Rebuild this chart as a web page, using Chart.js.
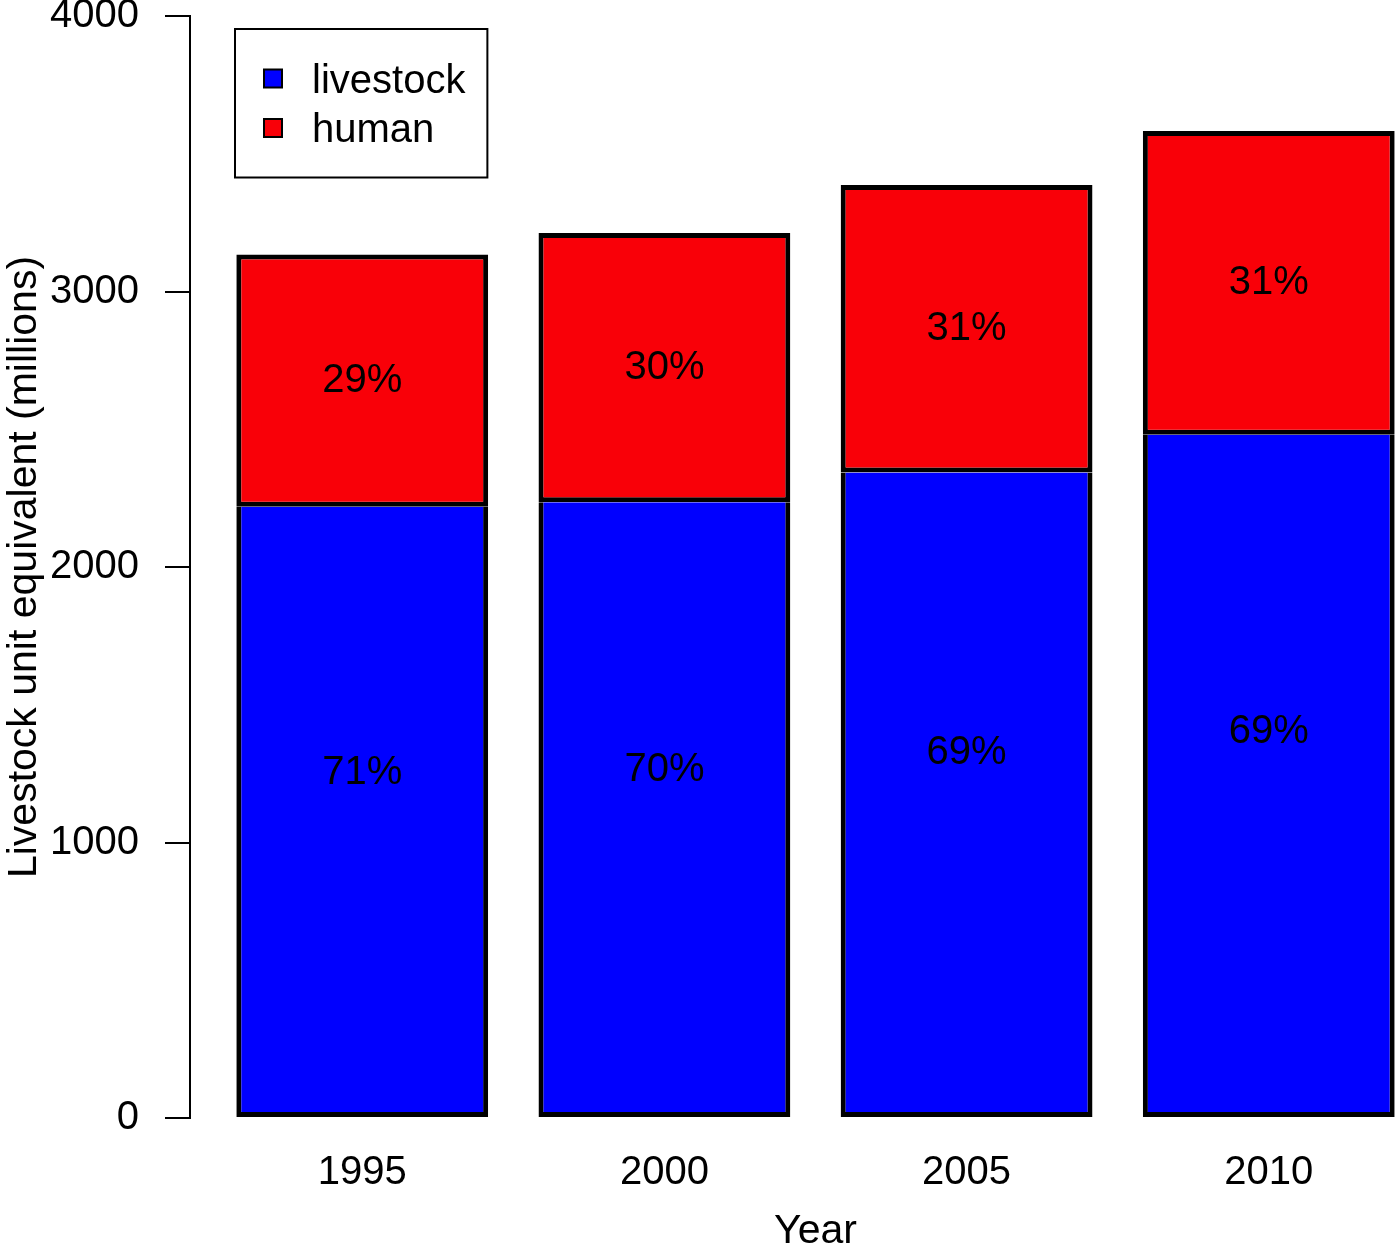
<!DOCTYPE html>
<html>
<head>
<meta charset="utf-8">
<script src="https://cdn.jsdelivr.net/npm/chart.js@4.4.1/dist/chart.umd.min.js"></script>
<style>
  html, body { margin: 0; padding: 0; background: #fff; overflow: hidden; }
  canvas { display: block; }
</style>
</head>
<body>
<canvas id="livestockChart" width="1441" height="1252"></canvas>
<script>
// Data (millions of livestock unit equivalent)
const years = ['1995', '2000', '2005', '2010'];
const livestock = [2219, 2235, 2343, 2480];
const human = [915, 977, 1044, 1103];
const yTicks = [0, 1000, 2000, 3000, 4000];
const seriesNames = ['livestock', 'human'];

const FONT = "'Liberation Sans', Arial, Helvetica, sans-serif";
const BLUE = '#0000FF';
const RED = '#F90008';

// bar positions like R barplot (width 1, space 0.2), axis padded by 4%
const barPos = years.map((_, i) => 0.2 * (i + 1) + i + 0.5);
const xLo = 0.2;
const xHi = barPos[barPos.length - 1] + 0.5;
const xPad = (xHi - xLo) * 0.04;

// Percent labels inside the bars
const barLabels = {
    id: 'barLabels',
    afterDatasetsDraw(chart) {
        const ctx = chart.ctx;
        const yScale = chart.scales.y;
        const meta = chart.getDatasetMeta(0);
        ctx.save();
        ctx.font = '40px ' + FONT;
        ctx.fillStyle = '#000';
        ctx.textAlign = 'center';
        ctx.textBaseline = 'middle';
        years.forEach((yr, i) => {
            const total = livestock[i] + human[i];
            const x = meta.data[i].x;
            ctx.fillText(Math.round(100 * livestock[i] / total) + '%', x, yScale.getPixelForValue(livestock[i] * 0.565));
            ctx.fillText(Math.round(100 * human[i] / total) + '%', x, yScale.getPixelForValue(livestock[i] + human[i] * 0.5));
        });
        ctx.restore();
    }
};

// Boxed legend, top left over the first bar
const boxLegend = {
    id: 'boxLegend',
    afterDraw(chart) {
        const ctx = chart.ctx;
        const first = chart.getDatasetMeta(0).data[0];
        const left = Math.round(first.x - first.width / 2) - 1;
        const top = chart.chartArea.top + 13;
        const row = 49.5;
        const sets = chart.data.datasets;
        ctx.save();
        ctx.font = '40px ' + FONT;
        const textW = Math.max(...sets.map(d => ctx.measureText(d.label).width));
        const w = 29 + 18 + 30 + textW + 22;
        const h = row * (sets.length + 1);
        ctx.fillStyle = '#fff';
        ctx.fillRect(left, top, w, h);
        ctx.lineWidth = 2;
        ctx.strokeStyle = '#000';
        ctx.strokeRect(left, top, w, h);
        sets.forEach((d, i) => {
            const cy = top + row * (i + 1);
            ctx.fillStyle = d.backgroundColor;
            ctx.fillRect(left + 29, cy - 9, 18, 18);
            ctx.strokeRect(left + 29, cy - 9, 18, 18);
            ctx.fillStyle = '#000';
            ctx.textBaseline = 'middle';
            ctx.fillText(d.label, left + 77, cy + 3);
        });
        ctx.restore();
    }
};

new Chart(document.getElementById('livestockChart'), {
    type: 'bar',
    data: {
        datasets: [{
            label: seriesNames[0],
            data: barPos.map((x, i) => ({ x: x, y: livestock[i] })),
            backgroundColor: BLUE,
            borderColor: '#000',
            borderWidth: { top: 0, left: 5, right: 5, bottom: 5 },
            borderSkipped: false
        }, {
            label: seriesNames[1],
            data: barPos.map((x, i) => ({ x: x, y: human[i] })),
            backgroundColor: RED,
            borderColor: '#000',
            borderWidth: { top: 5, left: 5, right: 5, bottom: 5 },
            borderSkipped: false
        }]
    },
    options: {
        responsive: false,
        animation: false,
        devicePixelRatio: 1,
        barPercentage: 1 / 1.2,
        categoryPercentage: 1,
        layout: { padding: { top: 16, left: 0, right: 0, bottom: 0 } },
        plugins: {
            legend: { display: false },
            tooltip: { enabled: false }
        },
        scales: {
            x: {
                type: 'linear',
                stacked: true,
                offset: false,
                min: xLo - xPad,
                max: xHi + xPad,
                afterBuildTicks: s => { s.ticks = barPos.map(v => ({ value: v })); },
                ticks: {
                    callback: (v, i) => years[i],
                    font: { family: FONT, size: 40 },
                    color: '#000',
                    padding: 31,
                    maxRotation: 0,
                    autoSkip: false
                },
                grid: { display: false, drawTicks: false },
                border: { display: false },
                title: {
                    display: true,
                    text: 'Year',
                    font: { family: FONT, size: 41 },
                    color: '#000',
                    padding: { top: 0, bottom: -4 }
                },
                afterFit: s => { s.height = 134; s.paddingLeft = 0; s.paddingRight = 0; }
            },
            y: {
                stacked: true,
                min: 0,
                max: 4000,
                afterBuildTicks: s => { s.ticks = yTicks.map(v => ({ value: v })); },
                ticks: {
                    callback: v => String(v),
                    font: { family: FONT, size: 40 },
                    color: '#000',
                    padding: 26
                },
                grid: { drawOnChartArea: false, drawTicks: true, tickLength: 25, color: '#000', lineWidth: 2 },
                border: { display: true, color: '#000', width: 2 },
                title: {
                    display: true,
                    text: 'Livestock unit equivalent (millions)',
                    font: { family: FONT, size: 41 },
                    color: '#000',
                    padding: { top: 0, bottom: 0 }
                },
                afterFit: s => { s.width = 190; s.paddingTop = 0; s.paddingBottom = 0; }
            }
        }
    },
    plugins: [barLabels, boxLegend]
});
</script>
</body>
</html>
